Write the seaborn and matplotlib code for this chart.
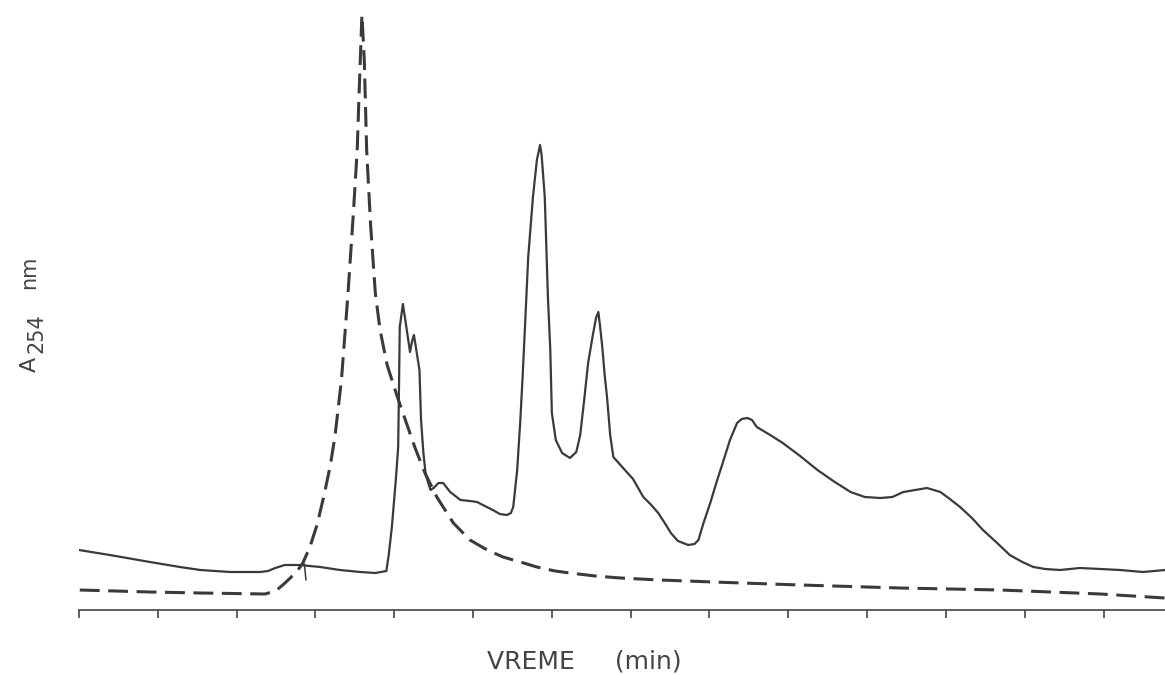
import numpy as np
import pandas as pd
import matplotlib
matplotlib.use("Agg")
import matplotlib.pyplot as plt
import seaborn as sns

# solid trace (sample), time in min, absorbance in arbitrary units
sample_time = [0.00, 0.39, 0.90, 1.28, 1.54, 1.92, 2.30, 2.40, 2.49, 2.61,
               2.80, 3.06, 3.31, 3.57, 3.76, 3.90, 3.93, 3.97, 4.02, 4.05,
               4.06, 4.07, 4.11, 4.15, 4.20, 4.23, 4.25, 4.28, 4.32, 4.34,
               4.37, 4.40, 4.46, 4.50, 4.56, 4.62, 4.71, 4.84, 4.96, 5.05,
               5.15, 5.25, 5.34, 5.43, 5.48, 5.51, 5.53, 5.56, 5.58, 5.60,
               5.63, 5.66, 5.70, 5.76, 5.81, 5.85, 5.87, 5.91, 5.95, 5.98,
               6.00, 6.05, 6.13, 6.23, 6.31, 6.36, 6.41, 6.46, 6.52, 6.56,
               6.59, 6.61, 6.64, 6.67, 6.70, 6.74, 6.78, 6.87, 7.03, 7.16,
               7.25, 7.35, 7.44, 7.51, 7.60, 7.73, 7.81, 7.86, 7.92, 8.01,
               8.09, 8.18, 8.26, 8.35, 8.41, 8.48, 8.54, 8.60, 8.77, 8.93,
               9.15, 9.37, 9.59, 9.79, 9.97, 10.17, 10.32, 10.46, 10.61, 10.76,
               10.93, 11.05, 11.18, 11.33, 11.47, 11.65, 11.81, 11.97, 12.11, 12.26,
               12.45, 12.70, 12.96, 13.21, 13.50, 13.78]
sample_abs = [6.0, 5.5, 4.8, 4.3, 4.0, 3.8, 3.8, 3.9, 4.2, 4.5,
              4.5, 4.3, 4.0, 3.8, 3.7, 3.9, 5.5, 8.3, 13.0, 16.3,
              22.0, 28.3, 30.6, 28.5, 25.8, 27.0, 27.5, 26.0, 24.0, 19.0,
              15.7, 13.5, 12.0, 12.2, 12.7, 12.7, 11.8, 11.0, 10.9, 10.8,
              10.4, 10.0, 9.6, 9.5, 9.7, 10.3, 11.8, 14.0, 16.5, 19.0,
              23.5, 28.5, 35.3, 41.3, 45.0, 46.5, 45.5, 41.3, 31.3, 26.0,
              19.7, 17.0, 15.7, 15.2, 15.8, 17.5, 21.0, 24.7, 27.5, 29.2,
              29.8, 28.5, 26.3, 23.5, 21.3, 17.5, 15.3, 14.5, 13.1, 11.3,
              10.6, 9.7, 8.6, 7.7, 6.9, 6.5, 6.6, 7.0, 8.6, 10.7,
              12.8, 15.0, 17.0, 18.7, 19.1, 19.2, 19.0, 18.3, 17.5, 16.7,
              15.4, 14.0, 12.8, 11.8, 11.3, 11.2, 11.3, 11.8, 12.0, 12.2,
              11.8, 11.1, 10.3, 9.2, 8.0, 6.7, 5.5, 4.8, 4.3, 4.1,
              4.0, 4.2, 4.1, 4.0, 3.8, 4.0]

# dashed trace (reference)
ref_time = [0.01, 0.90, 1.54, 2.36, 2.45, 2.51, 2.60, 2.68, 2.77, 2.84,
            2.93, 3.02, 3.11, 3.19, 3.25, 3.33, 3.41, 3.48, 3.53, 3.56,
            3.59, 3.62, 3.65, 3.70, 3.76, 3.82, 3.91, 4.04, 4.15, 4.26,
            4.39, 4.54, 4.75, 4.96, 5.18, 5.38, 5.60, 5.81, 6.04, 6.23,
            6.55, 6.87, 7.37, 8.05, 9.15, 10.42, 11.69, 12.96, 13.78]
ref_abs = [2.0, 1.8, 1.7, 1.6, 1.8, 2.0, 2.6, 3.2, 3.9, 4.7,
           6.3, 8.5, 11.5, 14.5, 17.5, 23.0, 31.3, 39.5, 46.0, 53.0,
           59.5, 55.0, 46.0, 38.5, 31.7, 28.0, 24.5, 21.3, 18.8, 16.3,
           13.7, 11.3, 8.7, 7.0, 6.0, 5.3, 4.8, 4.3, 3.9, 3.7,
           3.4, 3.2, 3.0, 2.8, 2.5, 2.2, 2.0, 1.6, 1.2]

# injection mark
inject_time = [2.86, 2.88]
inject_abs = [4.6, 3.0]

ticks = list(range(14))

sample = pd.DataFrame({"t": sample_time, "a": sample_abs})
ref = pd.DataFrame({"t": ref_time, "a": ref_abs})

sns.set_style("white")
plt.rcParams["font.family"] = ["DejaVu Sans"]

ink = "#3a3a3a"
fig = plt.figure(figsize=(11.65, 6.75), dpi=100)
ax = fig.add_axes([79 / 1165, 65 / 675, 1086 / 1165, 600 / 675])

sns.lineplot(data=sample, x="t", y="a", ax=ax, sort=False, estimator=None,
             color=ink, linewidth=1.6)
sns.lineplot(data=ref, x="t", y="a", ax=ax, sort=False, estimator=None,
             color=ink, linewidth=2.2)
ax.lines[-1].set_dashes((6.5, 2.8))
ax.plot(inject_time, inject_abs, color=ink, linewidth=1.1)

ax.set_xlim(0, 13.78)
ax.set_ylim(0, 60)
ax.set_xticks(ticks)
ax.set_xticklabels([])
ax.set_yticks([])
for s in ["left", "right", "top"]:
    ax.spines[s].set_visible(False)
ax.spines["bottom"].set_color("#444444")
ax.spines["bottom"].set_linewidth(1.2)
ax.tick_params(axis="x", direction="out", length=6, width=1.2, color="#444444", bottom=True)

ax.set_xlabel("VREME     (min)", fontsize=18, color="#444444")
ax.xaxis.set_label_coords(0.465, -0.066)
ax.set_ylabel("")

# y label: A with subscript 254, then nm
fig.text(30 / 1165, 1 - 364 / 675, "A", rotation=90, fontsize=16, color="#444444",
         ha="center", va="center")
fig.text(36 / 1165, 1 - 333 / 675, "254", rotation=90, fontsize=15, color="#444444",
         ha="center", va="center")
fig.text(29 / 1165, 1 - 272 / 675, "nm", rotation=90, fontsize=15, color="#444444",
         ha="center", va="center")

fig.savefig("out.png", dpi=100, facecolor="white")
